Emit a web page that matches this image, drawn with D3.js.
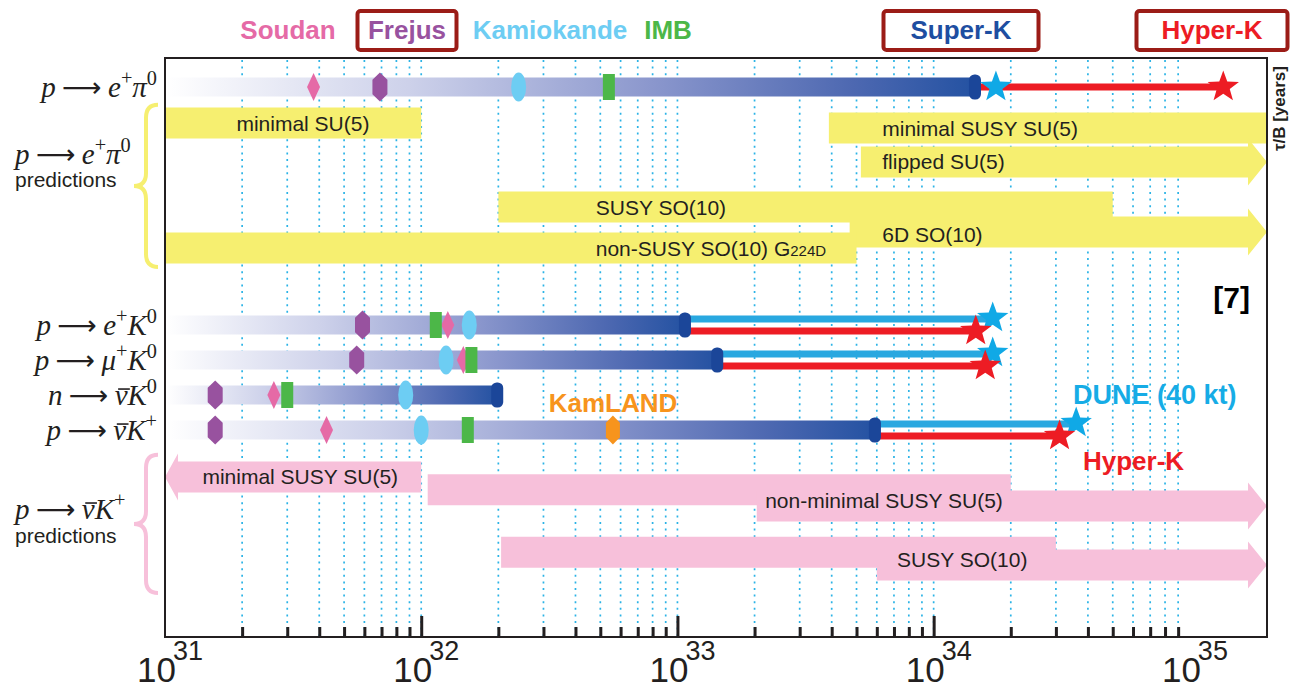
<!DOCTYPE html>
<html lang="en">
<head>
<meta charset="utf-8">
<title>Nucleon decay lifetime limits and predictions</title>
<script src="https://d3js.org/d3.v7.min.js"></script>
<style>
  body { margin: 0; background: #fff; }
  text { font-family: "Liberation Sans", Arial, Helvetica, sans-serif; }
  .math { font-family: "Liberation Serif", "Times New Roman", serif; }
</style>
</head>
<body>
<div id="chart"></div>
<script>
// ---- data -------------------------------------------------------------
// decay channels, row position in lane units (top to bottom)
var channelRow = [0.2, 7, 8, 9, 10];
var channelTex = [
  [["p", "it"], ["\u27f6", "arrow"], ["e", "it"], ["+", "sup"], ["\u03c0", "it"], ["0", "sup"]],
  [["p", "it"], ["\u27f6", "arrow"], ["e", "it"], ["+", "sup"], ["K", "it"], ["0", "sup"]],
  [["p", "it"], ["\u27f6", "arrow"], ["\u03bc", "it"], ["+", "sup"], ["K", "it"], ["0", "sup"]],
  [["n", "it"], ["\u27f6", "arrow"], ["\u03bd", "bar"], ["K", "it"], ["0", "sup"]],
  [["p", "it"], ["\u27f6", "arrow"], ["\u03bd", "bar"], ["K", "it"], ["+", "sup"]]
];

// lifetime limits [years] per channel (null = none)
var soudan     = [3.8e31, 1.27e32, 1.46e32, 2.66e31, 4.27e31];
var frejus     = [6.9e31, 5.9e31, 5.6e31, 1.57e31, 1.57e31];
var kamiokande = [2.4e32, 1.54e32, 1.25e32, 8.7e31, 1.0e32];
var imb        = [5.4e32, 1.14e32, 1.57e32, 3.0e31, 1.52e32];
var kamland    = [null, null, null, null, 5.6e32];
var superK     = [1.45e34, 1.07e33, 1.43e33, 1.98e32, 5.9e33];
var dune       = [1.75e34, 1.7e34, 1.7e34, null, 3.6e34];
var hyperK     = [1.35e35, 1.46e34, 1.59e34, null, 3.1e34];

// theory predictions
var predLabel = ["minimal SU(5)", "minimal SUSY SU(5)", "flipped SU(5)", "SUSY SO(10)", "6D SO(10)",
                 "non-SUSY SO(10) G|224D",
                 "minimal SUSY SU(5)", "", "non-minimal SUSY SU(5)", "", "SUSY SO(10)"];
var predGroup = ["e", "e", "e", "e", "e", "e", "k", "k", "k", "k", "k"];
var predFrom  = [1e31, 3.9e33, 5.2e33, 2e32, 4.7e33, 1e31, 1e32, 1.06e32, 2.04e33, 2.05e32, 6e33];
var predTo    = [1e32, 2e35, 2e35, 5e34, 2e35, 5e33, 1e31, 2e34, 2e35, 3e34, 2e35];
var predArrow = [false, false, true, false, true, false, true, false, true, false, true];
var predLane  = [1.23, 1.37, 2.34, 3.63, 4.34, 4.8, 11.34, 11.71, 12.17, 13.49, 13.86];
var predTextAt   = [1.9e31, 6.3e33, 6.3e33, 4.8e32, 6.3e33, 4.8e32, 1.4e31, null, 2.2e33, null, 7.2e33];
var predTextLane = [1.23, 1.37, 2.34, 3.63, 4.4, 4.8, 11.34, null, 12.0, null, 13.71];

// axis
var decades = [31, 32, 33, 34, 35];

// ---- layout -----------------------------------------------------------
var W = 1290, H = 690;
var frame = {left: 165, right: 1267, top: 58, bottom: 637};
var x = d3.scaleLog().domain([1e31, 2e35]).range([frame.left, frame.right]);
var y = d3.scaleLinear().domain([0, 16]).range([80, 640]);

var col = {
  soudan: "#e56aa6", frejus: "#98529f", kamiokande: "#6dcdf3", imb: "#4cb748",
  kamland: "#f7941d", superK: "#1e4ea1", hyperK: "#ed1c24", dune: "#16ace6",
  box: "#9b1c17", grid: "#2bb3e6", yellow: "#f6ef70", pink: "#f7c0da", cap: "#1b4699"
};

var svg = d3.select("#chart").append("svg").attr("width", W).attr("height", H);

var grad = svg.append("defs").append("linearGradient").attr("id", "barGrad");
[[0, "#ffffff"], [0.3, "#cdd1ea"], [0.6, "#8b97cd"], [0.85, "#4d68b1"], [1, "#2452a2"]]
  .forEach(function(s) {
    grad.append("stop").attr("offset", s[0]).attr("stop-color", s[1]);
  });

// dotted grid lines
var gridVals = [];
for (var k = 31; k <= 34; k++) {
  for (var m = 1; m <= 9; m++) {
    var v = m * Math.pow(10, k);
    if (v > 1e31) gridVals.push(v);
  }
}
svg.append("g").selectAll("line").data(gridVals).join("line")
  .attr("x1", function(d) { return x(d); })
  .attr("x2", function(d) { return x(d); })
  .attr("y1", frame.top + 2).attr("y2", frame.bottom)
  .attr("stroke", col.grid).attr("stroke-width", 1.7)
  .attr("stroke-dasharray", "2,4.6");

// ---- prediction bars ----------------------------------------------------
var barH = 31, headExt = 8;
function predPath(i) {
  var yc = y(predLane[i]), t = yc - barH / 2, b = yc + barH / 2;
  var x0 = x(predFrom[i]), x1 = x(predTo[i]);
  if (!predArrow[i]) return "M" + x0 + "," + t + "H" + x1 + "V" + b + "H" + x0 + "Z";
  var dir = x1 > x0 ? 1 : -1;
  var hl = dir > 0 ? 19 : 13;
  var xb = x1 - dir * hl;
  return "M" + x0 + "," + t + "H" + xb + "V" + (t - headExt) + "L" + x1 + "," + yc +
         "L" + xb + "," + (b + headExt) + "V" + b + "H" + x0 + "Z";
}
var idx = d3.range(predLabel.length);
svg.append("g").selectAll("path").data(idx).join("path")
  .attr("d", predPath)
  .attr("fill", function(i) { return predGroup[i] === "e" ? col.yellow : col.pink; });

var pl = svg.append("g").selectAll("text")
  .data(idx.filter(function(i) { return predTextAt[i] !== null; })).join("text")
  .attr("x", function(i) { return x(predTextAt[i]); })
  .attr("y", function(i) { return y(predTextLane[i]); })
  .attr("dy", "0.36em")
  .attr("font-size", 21).attr("fill", "#231f20");
pl.each(function(i) {
  var parts = predLabel[i].split("|");
  var t = d3.select(this);
  t.append("tspan").text(parts[0]);
  if (parts[1]) t.append("tspan").attr("font-size", 15).text(parts[1]);
});

// ---- frame and axis -----------------------------------------------------
svg.append("rect")
  .attr("x", frame.left).attr("y", frame.top)
  .attr("width", frame.right - frame.left).attr("height", frame.bottom - frame.top)
  .attr("fill", "none").attr("stroke", "#231f20").attr("stroke-width", 2);

var axisG = svg.append("g").attr("transform", "translate(0," + frame.bottom + ")")
  .call(d3.axisBottom(x).tickValues(gridVals).tickSizeInner(-10).tickSizeOuter(0).tickFormat(""));
axisG.select(".domain").remove();
axisG.selectAll(".tick line").attr("stroke", "#231f20").attr("stroke-width", 3)
  .filter(function(d) { return Math.abs(Math.log10(d) - Math.round(Math.log10(d))) < 1e-9; })
  .attr("y2", -21);

var dl = svg.append("g").selectAll("g").data(decades).join("g")
  .attr("transform", function(d) { return "translate(" + x(Math.pow(10, d)) + ",0)"; });
dl.append("text").attr("x", 11).attr("y", 682).attr("text-anchor", "end")
  .attr("font-size", 35).attr("fill", "#231f20").text("10");
dl.append("text").attr("x", 8).attr("y", 660)
  .attr("font-size", 27).attr("fill", "#231f20").text(function(d) { return d; });

// ---- detector bars --------------------------------------------------------
var rows = d3.range(channelRow.length);
var rg = svg.append("g");
rg.selectAll("rect.bar").data(rows).join("rect").attr("class", "bar")
  .attr("x", x(1e31) + 1)
  .attr("y", function(i) { return y(channelRow[i]) - 9.5; })
  .attr("width", function(i) { return x(superK[i]) - x(1e31) - 1; })
  .attr("height", 19)
  .attr("fill", "url(#barGrad)");

// future sensitivities: DUNE (blue) and Hyper-K (red) lines
rows.forEach(function(i) {
  var yc = y(channelRow[i]);
  var single = i === 0;
  if (dune[i] !== null && !single) {
    rg.append("line").attr("x1", x(superK[i])).attr("x2", x(dune[i]))
      .attr("y1", yc - 6).attr("y2", yc - 6)
      .attr("stroke", "#29a8e0").attr("stroke-width", 7);
  }
  if (hyperK[i] !== null) {
    rg.append("line").attr("x1", x(superK[i])).attr("x2", x(hyperK[i]))
      .attr("y1", single ? yc : yc + 6).attr("y2", single ? yc : yc + 6)
      .attr("stroke", col.hyperK).attr("stroke-width", 7);
  }
});

// Super-K end caps
rg.selectAll("rect.cap").data(rows).join("rect").attr("class", "cap")
  .attr("x", function(i) { return x(superK[i]) - 6; })
  .attr("y", function(i) { return y(channelRow[i]) - 12.5; })
  .attr("width", 12).attr("height", 25).attr("rx", 5.5)
  .attr("fill", col.cap);

// markers
function hexPath(w, h) {
  return "M0," + (-h / 2) + "L" + (w / 2) + "," + (-h / 4) + "V" + (h / 4) + "L0," + (h / 2) +
         "L" + (-w / 2) + "," + (h / 4) + "V" + (-h / 4) + "Z";
}
function addMarkers(vals, draw) {
  rows.forEach(function(i) {
    if (vals[i] === null) return;
    var g = rg.append("g").attr("transform", "translate(" + x(vals[i]) + "," + y(channelRow[i]) + ")");
    draw(g);
  });
}
addMarkers(soudan, function(g) {
  g.append("path").attr("d", "M0,-14L6.5,0L0,14L-6.5,0Z").attr("fill", col.soudan);
});
addMarkers(frejus, function(g) {
  g.append("path").attr("d", hexPath(15, 29)).attr("fill", col.frejus);
});
addMarkers(kamiokande, function(g) {
  g.append("ellipse").attr("rx", 7.5).attr("ry", 14.5).attr("fill", col.kamiokande);
});
addMarkers(imb, function(g) {
  g.append("rect").attr("x", -6).attr("y", -13).attr("width", 12).attr("height", 26).attr("fill", col.imb);
});
addMarkers(kamland, function(g) {
  g.append("path").attr("d", hexPath(14, 29)).attr("fill", col.kamland);
});

// stars
function starPath(R, r) {
  var p = [];
  for (var j = 0; j < 10; j++) {
    var a = -Math.PI / 2 + j * Math.PI / 5, rr = j % 2 ? r : R;
    p.push([rr * Math.cos(a), rr * Math.sin(a)]);
  }
  return "M" + p.map(function(q) { return q[0].toFixed(2) + "," + q[1].toFixed(2); }).join("L") + "Z";
}
rows.forEach(function(i) {
  var yc = y(channelRow[i]), single = i === 0;
  if (dune[i] !== null) {
    rg.append("path").attr("d", starPath(16.5, 6.8))
      .attr("transform", "translate(" + x(dune[i]) + "," + (single ? yc : yc - 7) + ")")
      .attr("fill", "#10a9e6");
  }
  if (hyperK[i] !== null) {
    rg.append("path").attr("d", starPath(16.5, 6.8))
      .attr("transform", "translate(" + x(hyperK[i]) + "," + (single ? yc : yc + 6) + ")")
      .attr("fill", col.hyperK);
  }
});

// ---- math labels ----------------------------------------------------------
function mathText(sel, parts, size) {
  var up = false, afterArrow = false, n = 0, bars = [];
  parts.forEach(function(p) {
    var ts = sel.append("tspan").text(p[0]);
    if (p[1] === "it" || p[1] === "bar") ts.attr("font-style", "italic");
    if (p[1] === "bar") bars.push(n);
    if (p[1] === "sup") {
      ts.attr("font-size", size * 0.7);
      if (!up) { ts.attr("dy", -size * 0.4); up = true; }
    } else {
      ts.attr("font-size", p[1] === "arrow" ? size * 0.95 : size);
      if (up) { ts.attr("dy", size * 0.4); up = false; }
    }
    if (p[1] === "arrow") {
      ts.attr("font-family", "DejaVu Sans").attr("dx", size * 0.22);
      afterArrow = true;
    } else if (afterArrow) {
      ts.attr("dx", size * 0.22);
      afterArrow = false;
    }
    n += p[0].length;
  });
  var node = sel.node(), parent = d3.select(node.parentNode);
  bars.forEach(function(ci) {
    var s = node.getStartPositionOfChar(ci), e = node.getEndPositionOfChar(ci);
    var by = s.y - size * 0.55;
    parent.append("line")
      .attr("x1", s.x + size * 0.12).attr("x2", e.x + size * 0.08)
      .attr("y1", by).attr("y2", by)
      .attr("stroke", "#231f20").attr("stroke-width", 1.6);
  });
}
rows.forEach(function(i) {
  var t = svg.append("text").attr("class", "math")
    .attr("x", 157).attr("y", y(channelRow[i]) + 10)
    .attr("text-anchor", "end").attr("fill", "#231f20");
  mathText(t, channelTex[i], 29);
});

// group labels and braces (label offsets from the brace tip, in px)
var groups = [
  {tex: channelTex[0], span: [0.71, 5.34], color: col.yellow, texDy: -22, predDy: 1},
  {tex: channelTex[4], span: [10.71, 14.66], color: col.pink, texDy: -5, predDy: 19}
];
groups.forEach(function(g) {
  var top = y(g.span[0]), bot = y(g.span[1]), mid = (top + bot) / 2;
  var xr = 158, xm = 146, xl = 134, r = 13;
  svg.append("path")
    .attr("d", "M" + xr + "," + top + "Q" + xm + "," + top + " " + xm + "," + (top + r) +
               "V" + (mid - r) + "Q" + xm + "," + mid + " " + xl + "," + mid +
               "Q" + xm + "," + mid + " " + xm + "," + (mid + r) +
               "V" + (bot - r) + "Q" + xm + "," + bot + " " + xr + "," + bot)
    .attr("fill", "none").attr("stroke", g.color).attr("stroke-width", 4);
  var t = svg.append("text").attr("class", "math").attr("x", 15).attr("y", mid + g.texDy)
    .attr("fill", "#231f20");
  mathText(t, g.tex, 29);
  svg.append("text").attr("x", 15).attr("y", mid + g.predDy).attr("font-size", 21)
    .attr("fill", "#231f20").text("predictions");
});

// ---- legend and annotations -------------------------------------------------
var legendItems = [
  {name: "Soudan", color: col.soudan, box: false},
  {name: "Frejus", color: col.frejus, box: true},
  {name: "Kamiokande", color: col.kamiokande, box: false},
  {name: "IMB", color: col.imb, box: false},
  {name: "Super-K", color: col.superK, box: true},
  {name: "Hyper-K", color: col.hyperK, box: true}
];
var legendX = [288, 407, 550, 668, 961, 1212];
var boxW = [0, 99, 0, 0, 155, 151];
legendItems.forEach(function(d, i) {
  if (d.box) {
    svg.append("rect").attr("x", legendX[i] - boxW[i] / 2).attr("y", 11)
      .attr("width", boxW[i]).attr("height", 39).attr("rx", 3)
      .attr("fill", "#fff").attr("stroke", col.box).attr("stroke-width", 4);
  }
  svg.append("text").attr("x", legendX[i]).attr("y", 39).attr("text-anchor", "middle")
    .attr("font-size", 26).attr("font-weight", "bold").attr("fill", d.color).text(d.name);
});

svg.append("text").attr("x", 613).attr("y", 412).attr("text-anchor", "middle")
  .attr("font-size", 26).attr("font-weight", "bold").attr("fill", col.kamland).text("KamLAND");
svg.append("text").attr("x", 1073).attr("y", 404)
  .attr("font-size", 27).attr("font-weight", "bold").attr("fill", col.dune).text("DUNE (40 kt)");
svg.append("text").attr("x", 1083).attr("y", 470)
  .attr("font-size", 26).attr("font-weight", "bold").attr("fill", col.hyperK).text("Hyper-K");
svg.append("text").attr("x", 1250).attr("y", 308).attr("text-anchor", "end")
  .attr("font-size", 30).attr("font-weight", "bold").attr("fill", "#000").text("[7]");
svg.append("text").attr("transform", "translate(1285,66) rotate(-90)")
  .attr("text-anchor", "end").attr("font-size", 17).attr("font-weight", "bold")
  .attr("fill", "#231f20").text("\u03c4/B [years]");
</script>
</body>
</html>
